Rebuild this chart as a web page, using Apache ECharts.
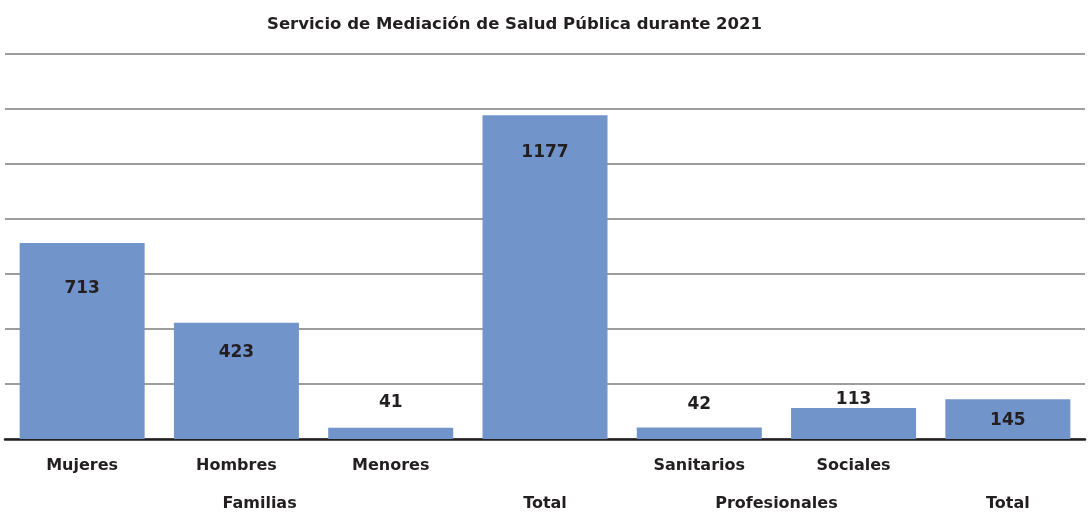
<!DOCTYPE html>
<html>
<head>
<meta charset="utf-8">
<script src="https://cdn.jsdelivr.net/npm/echarts@6/dist/echarts.min.js"></script>
<style>
  html, body { margin: 0; padding: 0; background: #fff; }
  #chart { width: 1088px; height: 512px; }
</style>
</head>
<body>
<div id="chart"></div>
<script>
  // valores
  const categories = ['Mujeres', 'Hombres', 'Menores', 'Total', 'Sanitarios', 'Sociales', 'Total'];
  const tickLabels = ['Mujeres', 'Hombres', 'Menores', '', 'Sanitarios', 'Sociales', ''];
  const values = [713, 423, 41, 1177, 42, 113, 145];
  const groupNames = ['Familias', 'Total', 'Profesionales', 'Total'];
  const groupAt = [1.65, 3.5, 5, 6.5];

  // donde va cada etiqueta de valor (dentro / encima de la barra)
  const labelPlace = [
    ['insideTop', 37], ['insideTop', 21], ['top', 17], ['insideTop', 29],
    ['top', 14], ['top', 0], ['insideTop', 13]
  ];

  const textColor = '#231f20';
  const font = 'DejaVu Sans';

  const myChart = echarts.init(document.getElementById('chart'));

  let barData = values.map(function (v, i) {
    return {
      value: v,
      label: { position: labelPlace[i][0], distance: labelPlace[i][1] }
    };
  });

  let option = {
    animation: false,
    title: {
      text: 'Servicio de Mediación de Salud Pública durante 2021',
      left: 262,
      top: 11,
      textStyle: { fontFamily: font, fontSize: 16.5, fontWeight: 'bold', color: textColor }
    },
    grid: { left: 5, right: 0, top: 54, bottom: 72 },
    xAxis: [
      {
        type: 'category',
        data: categories,
        axisTick: { show: false },
        axisLine: { lineStyle: { color: textColor, width: 2.5 } },
        axisLabel: {
          margin: 19,
          fontFamily: font, fontSize: 16, fontWeight: 'bold', color: textColor,
          formatter: function (val, idx) { return tickLabels[idx]; }
        }
      },
      {
        type: 'value',
        position: 'bottom',
        min: 0,
        max: 7,
        interval: 0.05,
        axisLine: { show: false },
        axisTick: { show: false },
        splitLine: { show: false },
        axisLabel: {
          margin: 57,
          fontFamily: font, fontSize: 16, fontWeight: 'bold', color: textColor,
          formatter: function (v) {
            for (let i = 0; i < groupAt.length; i++) {
              if (Math.abs(v - groupAt[i]) < 0.01) return groupNames[i];
            }
            return '';
          }
        }
      }
    ],
    yAxis: {
      type: 'value',
      min: 0,
      max: 1400,
      interval: 200,
      axisLabel: { show: false },
      axisLine: { show: false },
      axisTick: { show: false },
      splitLine: { lineStyle: { color: '#7d7d7d', width: 1.5 } }
    },
    series: [
      {
        type: 'bar',
        barWidth: 125,
        data: barData,
        itemStyle: { color: '#7194cb' },
        label: {
          show: true,
          fontFamily: font, fontSize: 17, fontWeight: 'bold', color: textColor
        }
      }
    ]
  };

  myChart.setOption(option);
  window.addEventListener('resize', function () {
    myChart.resize();
  });
</script>
</body>
</html>
